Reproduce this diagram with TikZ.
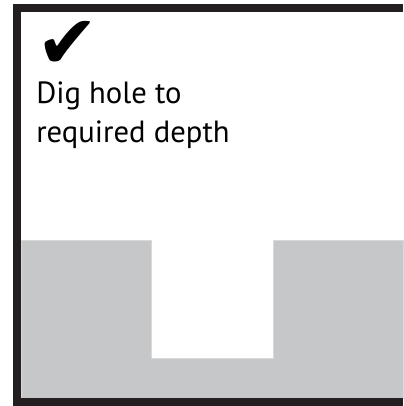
\documentclass[tikz,border=0pt]{standalone}
\usepackage{fontspec}
\setmainfont{PT Sans}
\newfontfamily\symbolfont{DejaVu Sans}
\definecolor{soilgray}{HTML}{C6C7C9}
\definecolor{framegray}{HTML}{231F20}
\begin{document}
\begin{tikzpicture}[x=0.75pt,y=-0.75pt]
    \useasboundingbox (0,0) rectangle (403,406);
    \fill[white] (0,0) rectangle (403,406);

    % ground with the hole cut out
    \path[fill=soilgray,draw=black!15,line width=0.5pt]
        (21,240) -- (151,240) -- (151,358) -- (273,358)
        -- (273,240) -- (403,240) -- (403,398) -- (21,398) -- cycle;

    % frame of the panel, open to the right
    \draw[framegray,line width=6pt,line join=miter]
        (403,8) -- (17,8) -- (17,402) -- (403,402);

    \node[anchor=south west,inner sep=0pt,font=\symbolfont\fontsize{56}{56}\selectfont]
        (check) at (36,69) {✔};
    \node[anchor=north west,align=left,inner sep=0pt,
          font=\fontsize{23}{29.25}\selectfont]
        (step-label) at (36,82)
        {Dig hole to\\required depth};
\end{tikzpicture}
\end{document}
